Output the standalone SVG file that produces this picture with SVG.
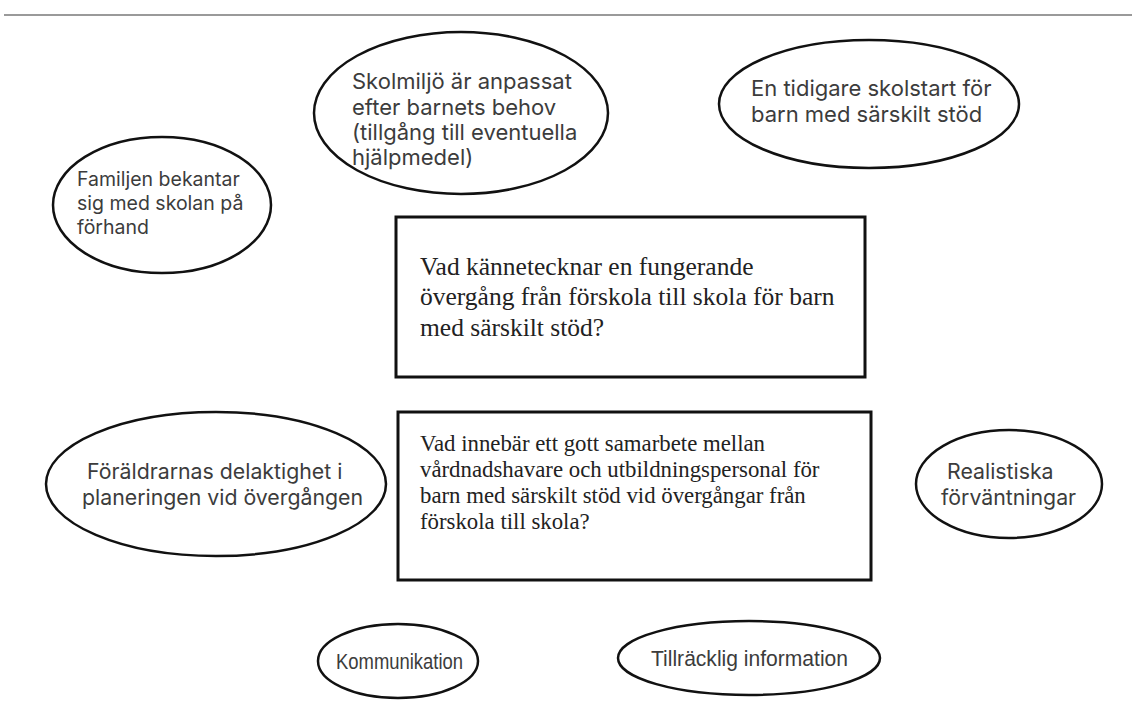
<svg xmlns="http://www.w3.org/2000/svg" width="1132" height="722" viewBox="0 0 1132 722">
<style>
.ell{fill:none;stroke:#111;stroke-width:2.5}
.box{fill:none;stroke:#111;stroke-width:3}
.s{font-family:Inter,"Liberation Sans",sans-serif;fill:#3c3c3c}
.a{font-family:"Liberation Sans",Arial,sans-serif;fill:#3c3c3c}
.t{font-family:"Liberation Serif","Times New Roman",serif;fill:#222}
</style>
<rect width="1132" height="722" fill="#fff"/>
<line x1="4" y1="15" x2="1132" y2="15" stroke="#9a9a9a" stroke-width="2"/>
<g id="connectors"></g>
<g id="skolmiljo">
<ellipse class="ell" cx="461" cy="113" rx="147" ry="81"/>
<text class="s" font-size="22"><tspan x="352" y="89">Skolmiljö är anpassat</tspan><tspan x="352" y="114.5">efter barnets behov</tspan><tspan x="352" y="140">(tillgång till eventuella</tspan><tspan x="352" y="165">hjälpmedel)</tspan></text>
</g>
<g id="tidigare">
<ellipse class="ell" cx="869" cy="104" rx="150" ry="64"/>
<text class="s" font-size="22"><tspan x="751" y="96">En tidigare skolstart för</tspan><tspan x="751" y="122">barn med särskilt stöd</tspan></text>
</g>
<g id="familjen">
<ellipse class="ell" cx="162" cy="205" rx="109" ry="68"/>
<text class="s" font-size="19.5"><tspan x="77" y="186">Familjen bekantar</tspan><tspan x="77" y="210">sig med skolan på</tspan><tspan x="77" y="234">förhand</tspan></text>
</g>
<g id="fraga1">
<rect class="box" x="396" y="217" width="469" height="160"/>
<text class="t" font-size="25.5"><tspan x="420" y="275">Vad kännetecknar en fungerande</tspan><tspan x="420" y="305">övergång från förskola till skola för barn</tspan><tspan x="420" y="336">med särskilt stöd?</tspan></text>
</g>
<g id="fraga2">
<rect class="box" x="398" y="412" width="473" height="168"/>
<text class="t" font-size="22.8"><tspan x="420" y="451">Vad innebär ett gott samarbete mellan</tspan><tspan x="420" y="477">vårdnadshavare och utbildningspersonal för</tspan><tspan x="420" y="503">barn med särskilt stöd vid övergångar från</tspan><tspan x="420" y="529">förskola till skola?</tspan></text>
</g>
<g id="foraldrarnas">
<ellipse class="ell" cx="216" cy="484" rx="170" ry="72"/>
<text class="s" font-size="21.3"><tspan x="87" y="479">Föräldrarnas delaktighet i</tspan><tspan x="82" y="505">planeringen vid övergången</tspan></text>
</g>
<g id="realistiska">
<ellipse class="ell" cx="1009" cy="484" rx="93" ry="54"/>
<text class="s" font-size="21.3"><tspan x="947" y="479">Realistiska</tspan><tspan x="941" y="505">förväntningar</tspan></text>
</g>
<g id="kommunikation">
<ellipse class="ell" cx="398" cy="661" rx="80" ry="37"/>
<text class="a" font-size="22" x="336" y="669" textLength="127" lengthAdjust="spacingAndGlyphs">Kommunikation</text>
</g>
<g id="tillracklig">
<ellipse class="ell" cx="749" cy="658" rx="131" ry="37"/>
<text class="a" font-size="22" x="651" y="666" textLength="197" lengthAdjust="spacingAndGlyphs">Tillräcklig information</text>
</g>
</svg>
